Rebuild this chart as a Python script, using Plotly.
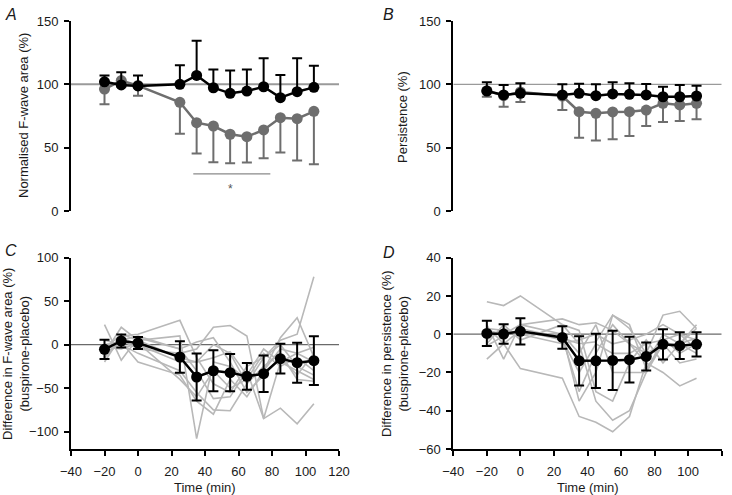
import plotly.graph_objects as go

# ---------------- data ----------------
time = [-20, -10, 0, 25, 35, 45, 55, 65, 75, 85, 95, 105]

# Panel A: normalised F-wave area (%)
a_busp_mean = [102, 99.5, 98.7, 100, 107, 97.3, 92.9, 94.7, 98.1, 89.5, 94.2, 97.6]
a_busp_err = [5, 10, 8.3, 15, 27.4, 14.5, 18, 17, 22.4, 17.8, 26.3, 17.1]
a_plac_mean = [96.3, 103, 99, 85.8, 69.7, 67.1, 60.6, 58.7, 64, 73.7, 72.9, 78.7]
a_plac_err = [12.1, 5, 8, 24.8, 24.4, 28.6, 22.9, 20.5, 22.4, 27.6, 33.1, 41.7]

# Panel B: persistence (%)
b_busp_mean = [94.7, 91.6, 92.9, 91.6, 92.9, 91, 92.4, 92.1, 91.6, 90.2, 90.2, 90.8]
b_busp_err = [6.9, 7.8, 7.9, 8.4, 7.5, 9, 9.2, 8.7, 8.7, 7.9, 9.2, 8.1]
b_plac_mean = [95, 91, 94, 90.8, 78.4, 77.1, 78.2, 78.4, 79.7, 85, 83.7, 85]
b_plac_err = [4.8, 8.7, 8, 11.1, 20.5, 21.5, 21.5, 19.1, 12.6, 14.7, 12.7, 12.6]

# Panel C: difference in F-wave area (%) (buspirone - placebo)
c_mean = [-5.4, 4.2, 1.9, -14.2, -37.2, -30, -32.2, -36.4, -33.4, -16.1, -20.7, -18.4]
c_err = [11, 7.5, 7, 18, 27, 23.5, 21.5, 15.4, 21, 17, 23, 28]
c_subjects = [
    [23, -18, 8, -5, -30, -62, -60, -30, -85, -73, -91, -68],
    [-20, 10, 12, 28, -15, -45, -55, -25, -15, 5, 12, 78],
    [-10, 20, 5, 10, -108, -20, -25, -40, -30, 8, 31, -14],
    [-15, 5, -5, -10, -5, 20, 22, 10, -85, -20, -30, -40],
    [5, 0, -10, -30, -55, -75, -76, -45, -25, -10, -40, -42],
    [-8, 8, 0, -20, -20, 0, -10, -45, -15, 0, -25, -35],
    [0, 3, -20, -35, -65, -80, -40, -60, -30, -5, -10, -20],
    [-12, 5, 10, -5, 3, 8, -20, -55, -35, -15, -35, -10],
    [-3, -5, 2, -40, -60, -30, -50, -40, -10, -25, -15, -30],
    [-5, 12, 5, -15, -20, -15, -8, -35, -5, -20, -10, -3],
]

# Panel D: difference in persistence (%) (buspirone - placebo)
d_mean = [0.4, 0.1, 1.5, -1.7, -13.9, -13.9, -13.7, -13.3, -11.6, -5.3, -6, -5.3]
d_err = [6.6, 5.1, 6.9, 5.9, 12.9, 14.2, 15.5, 12, 7.3, 7.9, 7, 6.3]
d_subjects = [
    [17, 15, 20, 5, -5, -35, -45, -40, -20, -5, -5, 5],
    [-13, -5, -18, -23, -43, -46, -51, -43, -15, -20, -27, -23],
    [5, -13, 5, 8, 5, 6, 2, -5, -10, 10, 12, 3],
    [3, 2, 0, 0, -35, -20, 10, 5, -18, -5, -15, -13],
    [-5, 5, -3, 5, 2, -30, -35, -15, -3, -15, -5, -10],
    [0, 0, 5, 0, -10, 5, -20, -20, -20, -2, -10, -5],
    [4, -5, 2, -3, -20, -5, -10, -10, -5, -3, 0, -8],
    [-3, 3, 0, -5, -3, 0, -5, -3, 0, 5, 0, -3],
    [2, 0, 1, -2, -30, -10, 5, -5, -15, 0, -5, -2],
    [-6, -1, 3, -2, -5, -4, 10, 3, -10, -5, -5, 3],
]

x_ticks = [-40, -20, 0, 20, 40, 60, 80, 100, 120]
ab_yticks = [0, 50, 100, 150]
c_yticks = [-100, -50, 0, 50, 100]
d_yticks = [-60, -40, -20, 0, 20, 40]

# ---------------- style ----------------
FONT = "Liberation Sans, Arial, Helvetica, sans-serif"
BLACK = "#000000"
GREY = "#6e6e6e"
LIGHT = "#b8b8b8"
W, H = 732, 495
n = len(time)


def px_x(p):
    return p / W


def px_y(p):
    return (H - p) / H


fig = go.Figure()


def add_pair(xa, ya, b_mean, b_err, p_mean, p_err):
    fig.add_trace(go.Scatter(
        x=time, y=p_mean, xaxis=xa, yaxis=ya, mode="lines+markers",
        line=dict(color=GREY, width=2.5), marker=dict(color=GREY, size=11),
        error_y=dict(type="data", symmetric=False, array=[0] * n, arrayminus=p_err,
                     color=GREY, thickness=2, width=5),
        showlegend=False, hoverinfo="skip"))
    fig.add_trace(go.Scatter(
        x=time, y=b_mean, xaxis=xa, yaxis=ya, mode="lines+markers",
        line=dict(color=BLACK, width=2.5), marker=dict(color=BLACK, size=11),
        error_y=dict(type="data", symmetric=False, array=b_err, arrayminus=[0] * n,
                     color=BLACK, thickness=2, width=5),
        showlegend=False, hoverinfo="skip"))


def add_diff(xa, ya, subjects, mean, err):
    for s in subjects:
        fig.add_trace(go.Scatter(
            x=time, y=s, xaxis=xa, yaxis=ya, mode="lines",
            line=dict(color=LIGHT, width=1.6), showlegend=False, hoverinfo="skip"))
    fig.add_trace(go.Scatter(
        x=time, y=mean, xaxis=xa, yaxis=ya, mode="lines+markers",
        line=dict(color=BLACK, width=2.5), marker=dict(color=BLACK, size=11),
        error_y=dict(type="data", array=err, color=BLACK, thickness=2, width=5),
        showlegend=False, hoverinfo="skip"))


add_pair("x", "y", a_busp_mean, a_busp_err, a_plac_mean, a_plac_err)
add_pair("x2", "y2", b_busp_mean, b_busp_err, b_plac_mean, b_plac_err)
add_diff("x3", "y3", c_subjects, c_mean, c_err)
add_diff("x4", "y4", d_subjects, d_mean, d_err)

left_dom = [px_x(71), px_x(339)]
right_dom = [px_x(453.3), px_x(721.7)]
top_dom = [px_y(211), px_y(21)]
bot_dom = [px_y(449), px_y(257.7)]

tickfont = dict(family=FONT, size=13, color="#1a1a1a")

yax_common = dict(showline=True, linecolor=BLACK, linewidth=2, ticks="outside",
                  ticklen=5, tickwidth=2, tickcolor=BLACK, showgrid=False,
                  zeroline=False, tickfont=tickfont, ticklabelstandoff=3,
                  automargin=False)
xax_common = dict(showline=True, linecolor=BLACK, linewidth=2, ticks="outside",
                  ticklen=5, tickwidth=2, tickcolor=BLACK, showgrid=False,
                  zeroline=False, tickfont=tickfont, tickvals=x_ticks,
                  range=[-40, 120], ticklabelstandoff=4, automargin=False)

fig.update_layout(
    width=W, height=H, margin=dict(l=0, r=0, t=0, b=0, pad=0),
    paper_bgcolor="white", plot_bgcolor="white", showlegend=False,
    font=dict(family=FONT, size=13, color="#1a1a1a"),
    xaxis=dict(domain=left_dom, range=[-40, 120], visible=False, anchor="y"),
    yaxis=dict(domain=top_dom, range=[0, 150], tickvals=ab_yticks, anchor="x", **yax_common),
    xaxis2=dict(domain=right_dom, range=[-40, 120], visible=False, anchor="y2"),
    yaxis2=dict(domain=top_dom, range=[0, 150], tickvals=ab_yticks, anchor="x2", **yax_common),
    xaxis3=dict(domain=left_dom, anchor="y3", **xax_common),
    yaxis3=dict(domain=bot_dom, range=[-120, 100], tickvals=c_yticks, anchor="x3", **yax_common),
    xaxis4=dict(domain=right_dom, anchor="y4", **xax_common),
    yaxis4=dict(domain=bot_dom, range=[-60, 40], tickvals=d_yticks, anchor="x4", **yax_common),
)

# reference lines
shapes = [
    dict(type="line", xref="x", yref="y", x0=-40, x1=120, y0=100, y1=100,
         line=dict(color="#9a9a9a", width=2), layer="below"),
    dict(type="line", xref="x2", yref="y2", x0=-40, x1=120, y0=100, y1=100,
         line=dict(color="#9a9a9a", width=1.3), layer="below"),
    dict(type="line", xref="x3", yref="y3", x0=-40, x1=120, y0=0, y1=0,
         line=dict(color="#6a6a6a", width=1.2), layer="below"),
    dict(type="line", xref="x4", yref="y4", x0=-40, x1=120, y0=0, y1=0,
         line=dict(color="#6a6a6a", width=1.2), layer="below"),
    # significance bar in panel A
    dict(type="line", xref="x", yref="y", x0=33, x1=79, y0=29.3, y1=29.3,
         line=dict(color="#8a8a8a", width=1.2)),
]
fig.update_layout(shapes=shapes)

TXT = dict(family=FONT, size=13, color="#1a1a1a")
ann = []
# significance asterisk
ann.append(dict(x=55.5, y=17, xref="x", yref="y", text="*", showarrow=False,
                xanchor="center", yanchor="middle",
                font=dict(family=FONT, size=12, color="#555555")))
# panel letters
for letter, xp, yp in [("A", 3, 4), ("B", 381, 4), ("C", 3, 240), ("D", 381, 242)]:
    ann.append(dict(x=px_x(xp), y=px_y(yp), xref="paper", yref="paper",
                    xanchor="left", yanchor="top", showarrow=False,
                    text="<i>%s</i>" % letter,
                    font=dict(family=FONT, size=16, color="#1a1a1a")))
# y-axis titles
for text, xp, yp in [
    ("Normalised F-wave area (%)", 24, 116),
    ("Persistence (%)", 403, 117),
    ("Difference in F-wave area (%)<br>(buspirone-placebo)", 16, 354),
    ("Difference in persistence (%)<br>(buspirone-placebo)", 395, 354),
]:
    ann.append(dict(x=px_x(xp), y=px_y(yp), xref="paper", yref="paper", textangle=-90,
                    xanchor="center", yanchor="middle", text=text, showarrow=False,
                    font=TXT))
# x-axis titles
for xp in (205, 588):
    ann.append(dict(x=px_x(xp), y=px_y(487), xref="paper", yref="paper",
                    xanchor="center", yanchor="middle", text="Time (min)",
                    showarrow=False, font=TXT))
fig.update_layout(annotations=ann)

# remove the default page margin so the figure sits at the window's top-left corner
fig.write_html("out.html",
               config={"displayModeBar": False, "staticPlot": True},
               post_script="document.body.style.margin='0';document.body.style.padding='0';")
